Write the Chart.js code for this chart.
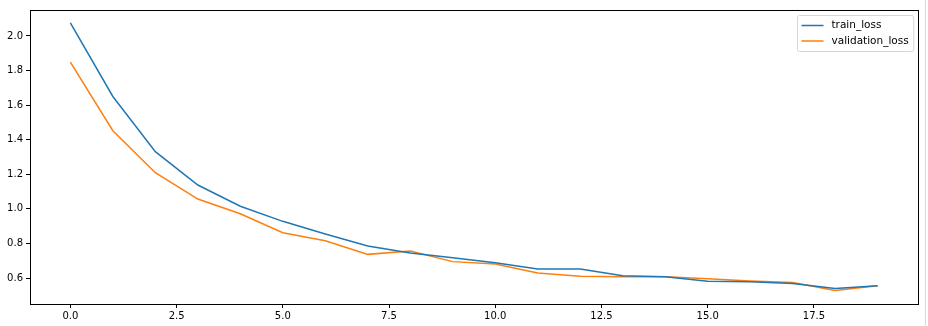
<!DOCTYPE html>
<html>
<head>
<meta charset="utf-8">
<script src="https://cdn.jsdelivr.net/npm/chart.js@4/dist/chart.umd.min.js"></script>
<style>
  html, body { margin: 0; padding: 0; background: #fff; }
  #wrap { position: relative; width: 928px; height: 326px; }
  #edge { position: absolute; left: 925px; top: 0; width: 1px; height: 326px; background: #d9d9d9; }
</style>
</head>
<body>
<div id="wrap">
  <canvas id="lossChart" width="928" height="326"></canvas>
  <div id="edge"></div>
</div>
<script>
// epochs and loss values
const epochs = [0, 1, 2, 3, 4, 5, 6, 7, 8, 9, 10, 11, 12, 13, 14, 15, 16, 17, 18, 19];
const trainLoss = [2.075, 1.650, 1.331, 1.138, 1.015, 0.928, 0.855, 0.785, 0.745, 0.718, 0.689, 0.652, 0.652, 0.613, 0.607, 0.582, 0.579, 0.568, 0.539, 0.556];
const validationLoss = [1.848, 1.452, 1.209, 1.057, 0.972, 0.862, 0.816, 0.737, 0.757, 0.695, 0.681, 0.629, 0.610, 0.608, 0.608, 0.596, 0.583, 0.574, 0.528, 0.555];
const xTicks = [0, 2.5, 5, 7.5, 10, 12.5, 15, 17.5];
const yTicks = [0.6, 0.8, 1.0, 1.2, 1.4, 1.6, 1.8, 2.0];

const FONT = "'DejaVu Sans', sans-serif";

function toPoints(values) {
    return epochs.map((e, i) => ({ x: e, y: values[i] }));
}

// box around the plot area plus legend inside top-right, matplotlib style
const framePlugin = {
    id: 'frame',
    afterDraw(chart) {
        const c = chart.ctx;
        const a = chart.chartArea;
        c.save();
        c.strokeStyle = '#000';
        c.lineWidth = 1;
        c.strokeRect(Math.round(a.left) + 0.5, Math.round(a.top) + 0.5,
            Math.round(a.right - a.left), Math.round(a.bottom - a.top));

        // legend
        const sets = chart.data.datasets;
        c.font = '10.5px ' + FONT;
        let w = 0;
        sets.forEach(d => { w = Math.max(w, c.measureText(d.label).width); });
        const boxW = w + 39;
        const boxH = 36;
        const bx = Math.round(a.right - 5 - boxW) + 0.5;
        const by = Math.round(a.top + 5) + 0.5;
        c.fillStyle = 'rgba(255,255,255,0.8)';
        c.strokeStyle = '#d6d6d6';
        c.beginPath();
        c.roundRect(bx, by, boxW, boxH, 2);
        c.fill();
        c.stroke();
        sets.forEach((d, i) => {
            const ly = by + 10 + i * 15.5;
            c.strokeStyle = d.borderColor;
            c.lineWidth = 1.5;
            c.beginPath();
            c.moveTo(bx + 4, ly);
            c.lineTo(bx + 26, ly);
            c.stroke();
            c.fillStyle = '#000';
            c.textBaseline = 'middle';
            c.textAlign = 'left';
            c.fillText(d.label, bx + 34, ly);
        });
        c.restore();
    }
};

new Chart(document.getElementById('lossChart'), {
    type: 'line',
    data: {
        datasets: [
            {
                label: 'train_loss',
                data: toPoints(trainLoss),
                borderColor: '#1f77b4',
                borderWidth: 1.5,
                pointRadius: 0,
                tension: 0,
                fill: false
            },
            {
                label: 'validation_loss',
                data: toPoints(validationLoss),
                borderColor: '#ff7f0e',
                borderWidth: 1.5,
                pointRadius: 0,
                tension: 0,
                fill: false
            }
        ]
    },
    options: {
        responsive: false,
        animation: false,
        layout: { padding: { left: 0, right: 10, top: 10, bottom: 0 } },
        plugins: {
            legend: { display: false },
            tooltip: { enabled: false }
        },
        scales: {
            x: {
                type: 'linear',
                min: -0.95,
                max: 19.95,
                afterBuildTicks: s => { s.ticks = xTicks.map(v => ({ value: v })); },
                afterFit: s => { s.height = 22; },
                grid: {
                    drawOnChartArea: false,
                    drawTicks: true,
                    tickLength: 4,
                    color: '#000'
                },
                border: { display: false },
                ticks: {
                    color: '#000',
                    font: { family: FONT, size: 10 },
                    padding: 2,
                    maxRotation: 0,
                    callback: v => v.toFixed(1)
                }
            },
            y: {
                type: 'linear',
                min: 0.45,
                max: 2.15,
                afterBuildTicks: s => { s.ticks = yTicks.map(v => ({ value: v })); },
                afterFit: s => { s.width = 30; },
                grid: {
                    drawOnChartArea: false,
                    drawTicks: true,
                    tickLength: 4,
                    color: '#000'
                },
                border: { display: false },
                ticks: {
                    color: '#000',
                    font: { family: FONT, size: 10 },
                    padding: 3,
                    callback: v => v.toFixed(1)
                }
            }
        }
    },
    plugins: [framePlugin]
});
</script>
</body>
</html>
